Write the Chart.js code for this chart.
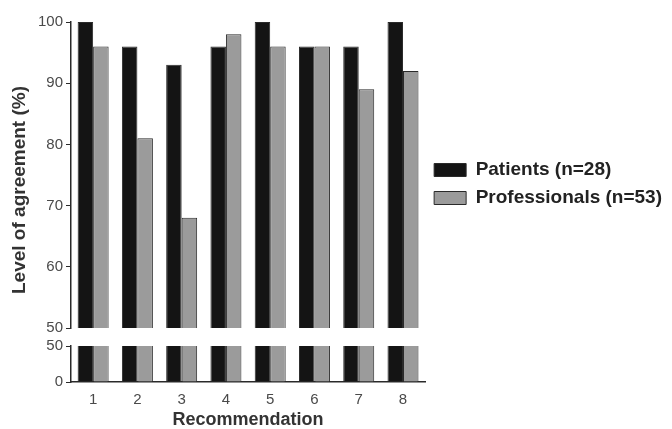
<!DOCTYPE html>
<html>
<head>
<meta charset="utf-8">
<script src="https://cdn.jsdelivr.net/npm/chart.js@4"></script>
<style>
  body { margin: 0; background: #fff; overflow: hidden; }
  #wrap { position: relative; width: 672px; height: 429px; }
  canvas { position: absolute; left: 0; }
  #top { top: 0; }
  #bot { top: 330px; }
</style>
</head>
<body>
<div id="wrap">
  <canvas id="top" width="672" height="345"></canvas>
  <canvas id="bot" width="672" height="99"></canvas>
</div>
<script>
var recomendacoes = ['1', '2', '3', '4', '5', '6', '7', '8']
var pacientes = [100, 96, 93, 96, 100, 96, 96, 100]
var profissionais = [96, 81, 68, 98, 96, 96, 89, 92]
var rotulos = ['Patients (n=28)', 'Professionals (n=53)']
var titulo_y = 'Level of agreement (%)'
var titulo_x = 'Recommendation'

var preto = '#141414'
var cinza = '#9b9b9b'
var linha = '#2a2a2a'
var texto = '#4a4a4a'

function monta_datasets(){
    return [{
        label: rotulos[0],
        data: pacientes,
        backgroundColor: preto,
        borderColor: linha,
        borderWidth: 1
    }, {
        label: rotulos[1],
        data: profissionais,
        backgroundColor: cinza,
        borderColor: linha,
        borderWidth: 1
    }]
}

// titulo do eixo y desenhado no meio das duas partes
const titulo_plugin = {
    id: 'titulo_y',
    afterDraw(chart){
        const ctx = chart.ctx
        ctx.save()
        ctx.translate(20, 190)
        ctx.rotate(-Math.PI / 2)
        ctx.font = 'bold 19px "Liberation Sans", Arial, sans-serif'
        ctx.fillStyle = '#333'
        ctx.textAlign = 'center'
        ctx.textBaseline = 'middle'
        ctx.fillText(titulo_y, 0, 0)
        ctx.restore()
    }
}

function eixo_y(min, max, passo){
    return {
        min: min,
        max: max,
        afterFit: function(scale){ scale.width = 71 },
        ticks: {
            stepSize: passo,
            color: texto,
            padding: 3,
            font: {size: 15}
        },
        grid: {drawOnChartArea: false, drawTicks: true, tickLength: 5, color: linha},
        border: {display: true, color: linha, width: 1.5}
    }
}

Chart.defaults.font.family = '"Liberation Sans", Arial, sans-serif'

const ctx_top = document.getElementById('top').getContext('2d')
const grafico_top = new Chart(ctx_top, {
    type: 'bar',
    data: {labels: recomendacoes, datasets: monta_datasets()},
    options: {
        responsive: false,
        animation: false,
        categoryPercentage: 0.7,
        barPercentage: 1.0,
        layout: {padding: {top: 22, bottom: 17, left: 0, right: 0}},
        scales: {
            x: {display: false},
            y: eixo_y(50, 100, 10)
        },
        plugins: {
            tooltip: {enabled: false},
            legend: {
                position: 'right',
                maxWidth: 300,
                title: {display: true, text: ' ', padding: 3, font: {size: 10}},
                labels: {
                    boxWidth: 32,
                    boxHeight: 13,
                    padding: 9,
                    color: '#222',
                    font: {size: 19, weight: 'bold'}
                }
            }
        }
    },
    plugins: [titulo_plugin]
})

// ajusta a margem direita para a area do grafico terminar em x=426
grafico_top.options.layout.padding.right = Math.max(0, grafico_top.chartArea.right - 426)
grafico_top.update()

const direita = 672 - grafico_top.chartArea.right

const ctx_bot = document.getElementById('bot').getContext('2d')
const grafico_bot = new Chart(ctx_bot, {
    type: 'bar',
    data: {labels: recomendacoes, datasets: monta_datasets()},
    options: {
        responsive: false,
        animation: false,
        categoryPercentage: 0.7,
        barPercentage: 1.0,
        layout: {padding: {top: 16, bottom: 0, left: 0, right: direita}},
        scales: {
            x: {
                afterFit: function(scale){ scale.height = 47 },
                grid: {display: false},
                border: {display: true, color: linha, width: 1.5},
                ticks: {color: texto, padding: 1, font: {size: 15}},
                title: {
                    display: true,
                    text: titulo_x,
                    color: '#333',
                    padding: {top: 0, bottom: -2},
                    font: {size: 18, weight: 'bold'}
                }
            },
            y: eixo_y(0, 50, 50)
        },
        plugins: {
            tooltip: {enabled: false},
            legend: {display: false}
        }
    }
})
</script>
</body>
</html>
